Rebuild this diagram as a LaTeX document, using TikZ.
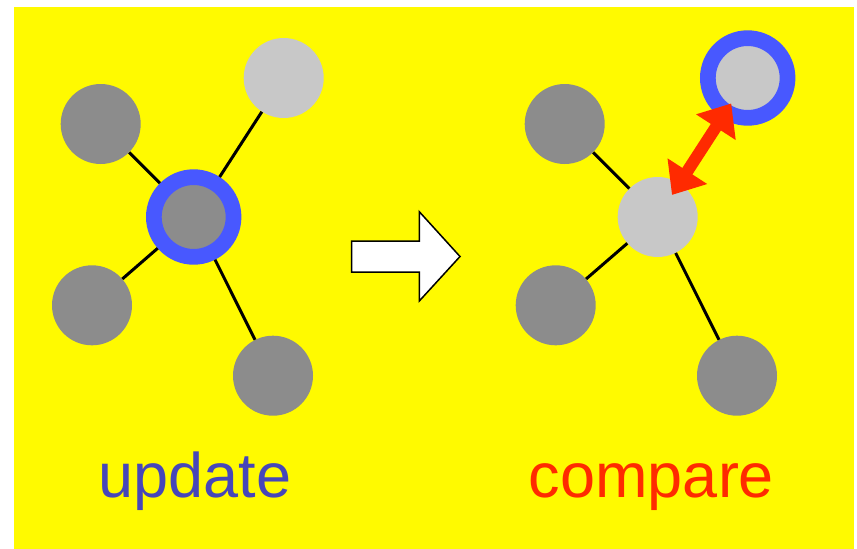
\documentclass[tikz,border=0pt]{standalone}
\usepackage{fontspec}
\setmainfont{Liberation Sans}
\usetikzlibrary{calc,arrows.meta}
\definecolor{bgyellow}{RGB}{255,250,0}
\definecolor{darkgraynode}{RGB}{140,140,140}
\definecolor{lightgraynode}{RGB}{200,200,200}
\definecolor{ringblue}{RGB}{72,88,255}
\definecolor{textblue}{RGB}{70,70,185}
\definecolor{redarrow}{RGB}{255,42,0}
\begin{document}
\begin{tikzpicture}[x=1pt,y=-1pt,
  dnode/.style={circle,fill=darkgraynode,minimum size=80pt,inner sep=0pt},
  lnode/.style={circle,fill=lightgraynode,minimum size=80pt,inner sep=0pt},
  ringnode/.style={circle,draw=ringblue,line width=15.7pt,minimum size=79.7pt,inner sep=0pt},
  edge/.style={line width=3pt,black},
  label/.style={font=\fontsize{63}{70}\selectfont,anchor=base,inner sep=0pt}]
\useasboundingbox (0,0) rectangle (857,549);
\fill[bgyellow] (14,7) rectangle (854,549);
% left graph
\node[ringnode,fill=darkgraynode] (lc) at (193.7,217) {};
\node[dnode] (ltl) at (100.7,124) {};
\node[lnode] (ltr) at (283.7,78) {};
\node[dnode] (lbl) at (92,305.3) {};
\node[dnode] (lbr) at (273,375.7) {};
\begin{scope}[on background layer/.style={}]
\end{scope}
\draw[edge] (lc) -- (ltl);
\draw[edge] (lc) -- (ltr);
\draw[edge] (lc) -- (lbl);
\draw[edge] (lc) -- (lbr);
% right graph
\node[lnode] (rc) at (657.7,217) {};
\node[dnode] (rtl) at (564.7,124) {};
\node[ringnode,fill=lightgraynode] (rtr) at (747.7,78) {};
\node[dnode] (rbl) at (555.7,305.3) {};
\node[dnode] (rbr) at (737,375.7) {};
\draw[edge] (rc) -- (rtl);
\draw[edge] (rc) -- (rbl);
\draw[edge] (rc) -- (rbr);
% red double arrow
\coordinate (ra) at ($(rc.center)!26.3pt!(rtr.center)$);
\coordinate (rb) at ($(rtr.center)!30.3pt!(rc.center)$);
\draw[redarrow,line width=12pt,{Triangle[length=28.3pt,width=45.4pt]}-{Triangle[length=28.3pt,width=45.4pt]}] (ra) -- (rb);
% block arrow
\draw[fill=white,line width=1.5pt,line join=miter] (351.7,241) -- (419.3,241) -- (419.3,211.7) -- (460,256.5) -- (419.3,301) -- (419.3,272) -- (351.7,272) -- cycle;
% labels
\node[label,text=textblue] (lu) at (195,497) {update};
\node[label,text=redarrow] (lcmp) at (651.5,497) {compare};
\end{tikzpicture}
\end{document}
